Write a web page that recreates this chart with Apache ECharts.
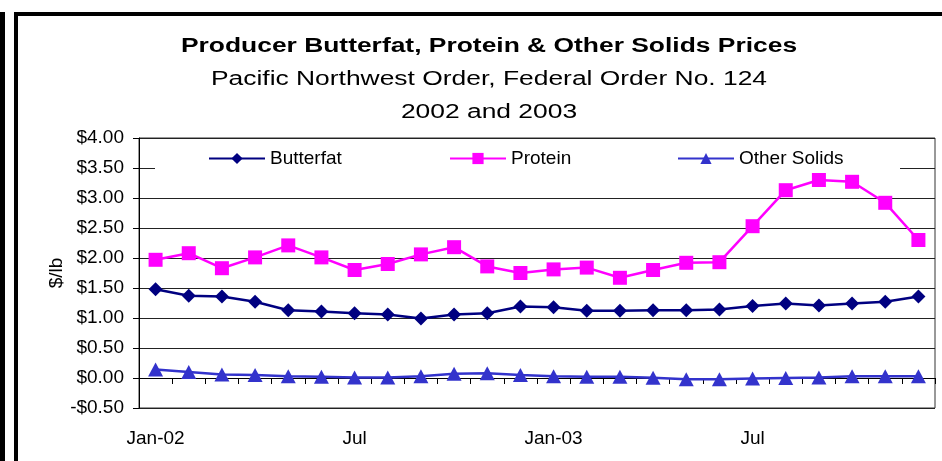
<!DOCTYPE html>
<html>
<head>
<meta charset="utf-8">
<script src="https://cdn.jsdelivr.net/npm/echarts@6/dist/echarts.min.js"></script>
<style>
  html, body { margin: 0; padding: 0; background: #fff; }
  #main { width: 942px; height: 461px; }
</style>
</head>
<body>
<div id="main"></div>
<script>
// 月份 (2002-2003)
var months = ['Jan-02', 'Feb', 'Mar', 'Apr', 'May', 'Jun', 'Jul', 'Aug', 'Sep', 'Oct', 'Nov', 'Dec',
              'Jan-03', 'Feb', 'Mar', 'Apr', 'May', 'Jun', 'Jul', 'Aug', 'Sep', 'Oct', 'Nov', 'Dec'];
var butterfat = [1.48, 1.37, 1.36, 1.27, 1.13, 1.11, 1.08, 1.06, 0.99, 1.06, 1.08, 1.19,
                 1.18, 1.12, 1.12, 1.13, 1.13, 1.14, 1.20, 1.24, 1.21, 1.24, 1.27, 1.36];
var protein = [1.97, 2.08, 1.83, 2.01, 2.21, 2.01, 1.80, 1.90, 2.06, 2.18, 1.86, 1.75,
               1.81, 1.84, 1.67, 1.80, 1.92, 1.93, 2.53, 3.13, 3.30, 3.27, 2.92, 2.30];
var otherSolids = [0.14, 0.10, 0.06, 0.05, 0.03, 0.02, 0.01, 0.01, 0.03, 0.07, 0.08, 0.05,
                   0.03, 0.02, 0.02, 0.005, -0.02, -0.02, -0.01, 0.00, 0.01, 0.03, 0.03, 0.03];

var titleLines = ['Producer Butterfat, Protein & Other Solids Prices',
                  'Pacific Northwest Order, Federal Order No. 124',
                  '2002 and 2003'];

var font = 'Liberation Sans, Arial, sans-serif';

var myChart = echarts.init(document.getElementById('main'));

// 标题 (横向拉伸的文字)
function titleText(str, y, bold) {
    return {
        type: 'text', x: 489, y: y, scaleX: 1.32, z: 10,
        style: {
            text: str, fill: '#000',
            font: (bold ? 'bold ' : '') + '20px ' + font,
            align: 'center', verticalAlign: 'middle'
        }
    };
}

var option = {
    backgroundColor: '#fff',
    animation: false,
    legend: [
        { data: ['Butterfat'], left: 203, top: 144, itemWidth: 56, itemHeight: 14,
          textStyle: { fontFamily: font, fontSize: 19, color: '#000' } },
        { data: ['Protein'], left: 444, top: 144, itemWidth: 56, itemHeight: 14,
          textStyle: { fontFamily: font, fontSize: 19, color: '#000' } },
        { data: ['Other Solids'], left: 672, top: 144, itemWidth: 56, itemHeight: 14,
          textStyle: { fontFamily: font, fontSize: 19, color: '#000' } }
    ],
    graphic: [
        // 外框
        { type: 'rect', shape: { x: 0, y: 12, width: 5, height: 449 }, style: { fill: '#000' } },
        { type: 'rect', shape: { x: 14, y: 12, width: 4, height: 449 }, style: { fill: '#000' } },
        { type: 'rect', shape: { x: 14, y: 12, width: 928, height: 4 }, style: { fill: '#000' } },
        // 图例背景
        { type: 'rect', z: 1, shape: { x: 155, y: 140, width: 745, height: 29 }, style: { fill: '#fff' } },
        titleText(titleLines[0], 46, true),
        titleText(titleLines[1], 79, false),
        titleText(titleLines[2], 112, false)
    ],
    grid: {
        left: 139, right: 7, top: 138, bottom: 53,
        show: true, borderColor: '#333', borderWidth: 1, backgroundColor: 'transparent'
    },
    xAxis: {
        type: 'category',
        data: months,
        boundaryGap: true,
        axisLine: { lineStyle: { color: '#000', width: 1 } },
        axisTick: { show: true, interval: 0, length: 6, lineStyle: { color: '#000' } },
        axisLabel: {
            interval: 5, margin: 21,
            fontFamily: font, fontSize: 19, color: '#000'
        },
        splitLine: { show: false }
    },
    yAxis: {
        type: 'value',
        min: -0.5, max: 4, interval: 0.5,
        name: '$/lb',
        nameLocation: 'middle',
        nameGap: 73,
        nameMoveOverlap: false,
        nameRotate: 90,
        nameTextStyle: { fontFamily: font, fontSize: 19, color: '#000' },
        axisLine: { show: true, lineStyle: { color: '#000', width: 1 } },
        axisTick: { show: true, length: 6, lineStyle: { color: '#000' } },
        axisLabel: {
            margin: 15, fontFamily: font, fontSize: 19, color: '#000',
            formatter: function (v) {
                return (v < 0 ? '-$' : '$') + Math.abs(v).toFixed(2);
            }
        },
        splitLine: { show: true, lineStyle: { color: '#222', width: 1 } }
    },
    series: [
        {
            name: 'Butterfat', type: 'line', data: butterfat,
            symbol: 'diamond', symbolSize: 14,
            lineStyle: { color: '#000080', width: 2.5 },
            itemStyle: { color: '#000080' }
        },
        {
            name: 'Protein', type: 'line', data: protein,
            symbol: 'rect', symbolSize: 14,
            lineStyle: { color: '#ff00ff', width: 2.5 },
            itemStyle: { color: '#ff00ff' }
        },
        {
            name: 'Other Solids', type: 'line', data: otherSolids,
            symbol: 'triangle', symbolSize: [15, 14],
            lineStyle: { color: '#3333cc', width: 2.5 },
            itemStyle: { color: '#3333cc' }
        }
    ]
};

myChart.setOption(option);
</script>
</body>
</html>
